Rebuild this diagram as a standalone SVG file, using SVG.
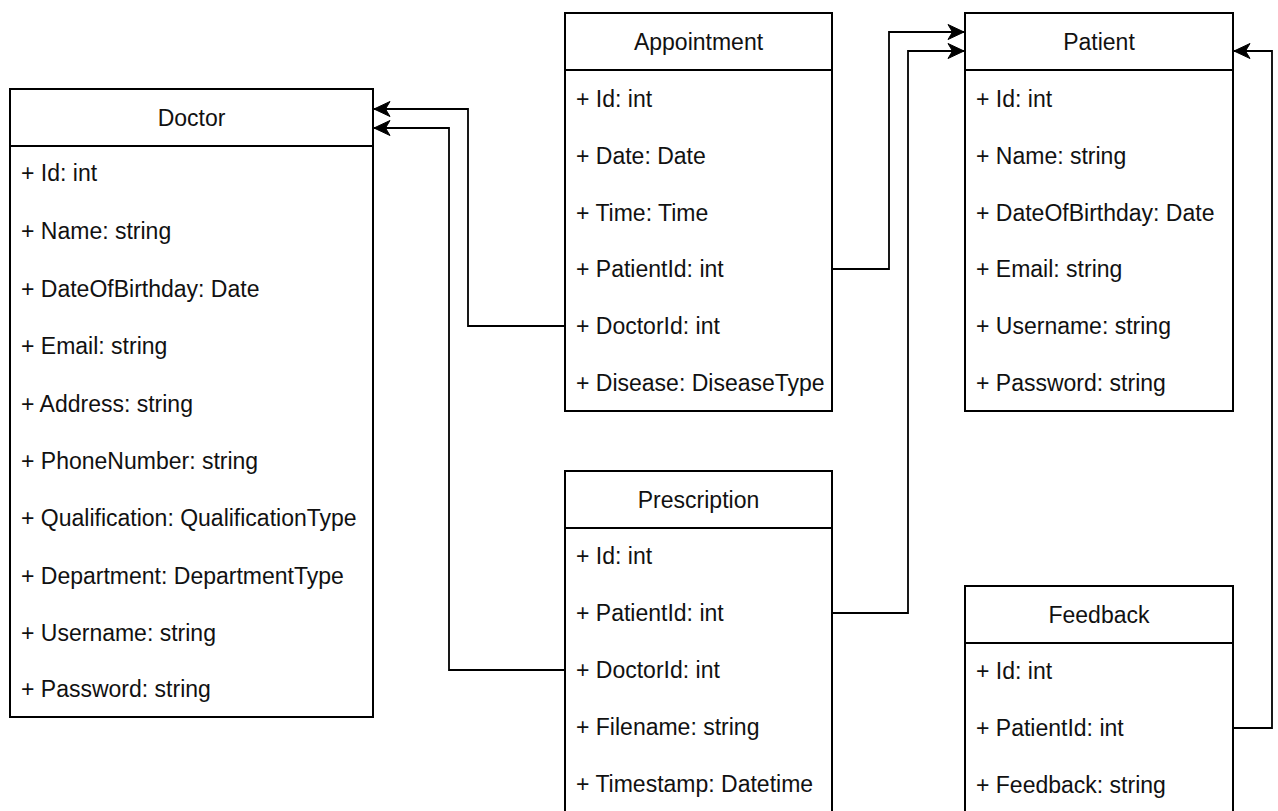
<svg xmlns="http://www.w3.org/2000/svg" width="1278" height="811" viewBox="0 0 1278 811">
  <defs>
    <style>
      .box { fill: #ffffff; stroke: #000000; stroke-width: 2; }
      .sep { stroke: #000000; stroke-width: 2; fill: none; }
      .title { font-family: "Liberation Sans", Arial, Helvetica, sans-serif; font-size: 23px; fill: #111111; text-anchor: middle; }
      .attr { font-family: "Liberation Sans", Arial, Helvetica, sans-serif; font-size: 23px; fill: #111111; }
      .link { fill: none; stroke: #000000; stroke-width: 1.8; marker-end: url(#arrow); }
    </style>
    <marker id="arrow" markerUnits="userSpaceOnUse" markerWidth="18" markerHeight="18" refX="16" refY="8" orient="auto" overflow="visible">
      <path d="M16,8 L0,0.5 L4.5,8 L0,15.5 Z" fill="#000000" stroke="#000000" stroke-width="1" stroke-linejoin="miter"/>
    </marker>
  </defs>

  <rect x="0" y="0" width="1278" height="811" fill="#ffffff"/>

  <!-- Doctor class -->
  <g id="doctor">
    <rect class="box" x="10" y="89" width="363" height="628"/>
    <line class="sep" x1="10" y1="146" x2="373" y2="146"/>
    <text class="title" x="191.5" y="126">Doctor</text>
    <text class="attr" x="21" y="181">+ Id: int</text>
    <text class="attr" x="21" y="239">+ Name: string</text>
    <text class="attr" x="21" y="297">+ DateOfBirthday: Date</text>
    <text class="attr" x="21" y="354">+ Email: string</text>
    <text class="attr" x="21" y="412">+ Address: string</text>
    <text class="attr" x="21" y="469">+ PhoneNumber: string</text>
    <text class="attr" x="21" y="526">+ Qualification: QualificationType</text>
    <text class="attr" x="21" y="584">+ Department: DepartmentType</text>
    <text class="attr" x="21" y="641">+ Username: string</text>
    <text class="attr" x="21" y="697">+ Password: string</text>
  </g>

  <!-- Appointment class -->
  <g id="appointment">
    <rect class="box" x="565" y="13" width="267" height="398"/>
    <line class="sep" x1="565" y1="70" x2="832" y2="70"/>
    <text class="title" x="698.5" y="50">Appointment</text>
    <text class="attr" x="576" y="107">+ Id: int</text>
    <text class="attr" x="576" y="164">+ Date: Date</text>
    <text class="attr" x="576" y="221">+ Time: Time</text>
    <text class="attr" x="576" y="277">+ PatientId: int</text>
    <text class="attr" x="576" y="334">+ DoctorId: int</text>
    <text class="attr" x="576" y="391">+ Disease: DiseaseType</text>
  </g>

  <!-- Patient class -->
  <g id="patient">
    <rect class="box" x="965" y="13" width="268" height="398"/>
    <line class="sep" x1="965" y1="70" x2="1233" y2="70"/>
    <text class="title" x="1099" y="50">Patient</text>
    <text class="attr" x="976" y="107">+ Id: int</text>
    <text class="attr" x="976" y="164">+ Name: string</text>
    <text class="attr" x="976" y="221">+ DateOfBirthday: Date</text>
    <text class="attr" x="976" y="277">+ Email: string</text>
    <text class="attr" x="976" y="334">+ Username: string</text>
    <text class="attr" x="976" y="391">+ Password: string</text>
  </g>

  <!-- Prescription class -->
  <g id="prescription">
    <rect class="box" x="565" y="471" width="267" height="343"/>
    <line class="sep" x1="565" y1="528" x2="832" y2="528"/>
    <text class="title" x="698.5" y="508">Prescription</text>
    <text class="attr" x="576" y="564">+ Id: int</text>
    <text class="attr" x="576" y="621">+ PatientId: int</text>
    <text class="attr" x="576" y="678">+ DoctorId: int</text>
    <text class="attr" x="576" y="735">+ Filename: string</text>
    <text class="attr" x="576" y="792">+ Timestamp: Datetime</text>
  </g>

  <!-- Feedback class -->
  <g id="feedback">
    <rect class="box" x="965" y="586" width="268" height="230"/>
    <line class="sep" x1="965" y1="643" x2="1233" y2="643"/>
    <text class="title" x="1099" y="623">Feedback</text>
    <text class="attr" x="976" y="679">+ Id: int</text>
    <text class="attr" x="976" y="736">+ PatientId: int</text>
    <text class="attr" x="976" y="793">+ Feedback: string</text>
  </g>

  <!-- Foreign-key associations -->
  <g id="connectors">
    <path class="link" d="M565,326 H468 V109 H374"/>
    <path class="link" d="M565,670 H449 V128 H374"/>
    <path class="link" d="M832,269 H889 V32 H964"/>
    <path class="link" d="M832,613 H908 V51 H964"/>
    <path class="link" d="M1233,728 H1272 V51 H1234"/>
  </g>
</svg>
